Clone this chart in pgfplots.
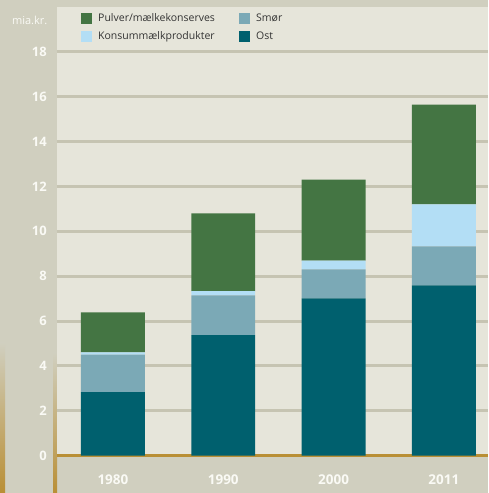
\documentclass[border=0pt]{standalone}
\usepackage{pgfplots}
\pgfplotsset{compat=1.18}
\usepackage{fontspec}
\setmainfont{Open Sans}
\definecolor{panel}{HTML}{E6E5DA}
\definecolor{stripbg}{HTML}{D0CFBF}
\definecolor{gridc}{HTML}{C6C4B2}
\definecolor{goldc}{HTML}{B98F35}
\definecolor{tanc}{HTML}{BBA985}
\definecolor{ost}{HTML}{00606E}
\definecolor{smor}{HTML}{7BA9B6}
\definecolor{konsum}{HTML}{B3DEF5}
\definecolor{pulver}{HTML}{447543}
\definecolor{legtext}{HTML}{333333}
\definecolor{labw}{HTML}{FAFAF5}
\begin{document}
\begin{tikzpicture}[x=1pt,y=1pt]
\useasboundingbox (0,0) rectangle (488,493);
\fill[stripbg] (0,0) rectangle (488,493);
\shade[top color=stripbg, bottom color=goldc] (0,0) rectangle (5,150);
\shade[top color=stripbg, middle color=tanc, bottom color=goldc] (53,0) rectangle (57,140);
\fill[panel] (57,37.3) rectangle (488,486);
\node[anchor=east, text=labw, font=\fontsize{11}{11}\selectfont, inner sep=0pt] at (47.5,472.5) {mia.kr.};
\begin{axis}[
  at={(57pt,37.3pt)}, anchor=south west,
  scale only axis, width=431pt, height=448.7pt,
  xmin=-0.507, xmax=3.4, ymin=0, ymax=20,
  axis line style={draw=none},
  major tick length=0pt,
  /pgf/number format/assume math mode=true,
  ybar stacked, bar width=0.58,
  xtick={0,1,2,3}, xticklabels={1980,1990,2000,2011},
  ytick={2,4,...,18},
  extra y ticks={0},
  extra y tick style={grid style={goldc, line width=2.6pt}},
  ymajorgrids,
  grid style={gridc, line width=3pt},
  yticklabel style={anchor=east, inner sep=0pt, xshift=-10pt, text=labw, font=\bfseries\fontsize{13}{13}\selectfont},
  xticklabel style={anchor=center, inner sep=0pt, yshift=-23.5pt, text=labw, font=\bfseries\fontsize{13.5}{13.5}\selectfont},
  legend columns=2,
  legend style={at={(0.0557,0.9866)}, anchor=north west, draw=none, fill=none, inner sep=0pt,
    column sep=0pt, row sep=7pt, nodes={inner sep=0pt, text=legtext, font=\fontsize{10.5}{10.5}\selectfont}},
  legend cell align=left,
  legend image code/.code={\path[#1] (0pt,-5.5pt) rectangle (11pt,5.5pt);},
]
\addplot[fill=ost, draw=none, forget plot] coordinates {(0,2.83) (1,5.37) (2,7.01) (3,7.59)};
\addplot[fill=smor, draw=none, forget plot] coordinates {(0,1.67) (1,1.78) (2,1.29) (3,1.74)};
\addplot[fill=konsum, draw=none, forget plot] coordinates {(0,0.11) (1,0.18) (2,0.40) (3,1.87)};
\addplot[fill=pulver, draw=none, forget plot] coordinates {(0,1.78) (1,3.47) (2,3.60) (3,4.45)};
\addlegendimage{fill=pulver, draw=none}
\addlegendentry{\makebox[147pt][l]{\hspace{6pt}Pulver/mælkekonserves}}
\addlegendimage{fill=smor, draw=none}
\addlegendentry{\hspace{6pt}Smør}
\addlegendimage{fill=konsum, draw=none}
\addlegendentry{\makebox[147pt][l]{\hspace{6pt}Konsummælkprodukter}}
\addlegendimage{fill=ost, draw=none}
\addlegendentry{\hspace{6pt}Ost}
\end{axis}
\end{tikzpicture}
\end{document}
